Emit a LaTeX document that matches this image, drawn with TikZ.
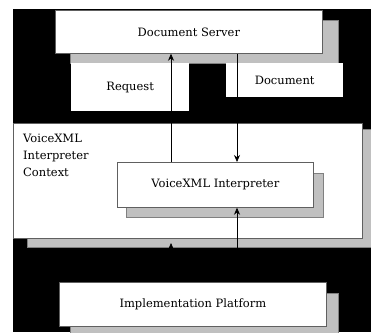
\documentclass[tikz,border=0pt]{standalone}
\usepackage{fontspec}
\setmainfont{DejaVu Serif}
\usetikzlibrary{arrows.meta}
\definecolor{shade}{HTML}{C0C0C0}
\definecolor{shadeedge}{HTML}{808080}
\definecolor{boxedge}{HTML}{606060}
\begin{document}
\begin{tikzpicture}[x=1pt,y=-1pt,
  box/.style={draw=boxedge,line width=0.7pt,fill=white,rectangle,inner sep=0pt,anchor=north west,font=\fontsize{11.5}{13}\selectfont},
  plain/.style={fill=white,rectangle,inner sep=0pt,anchor=north west,font=\fontsize{11.5}{13}\selectfont},
  shadow/.style={draw=shadeedge,line width=0.7pt,fill=shade},
  arr/.style={line width=0.7pt,-{Stealth[length=7pt,width=6pt]}},
  ln/.style={line width=0.7pt}]
\useasboundingbox (0,0) rectangle (371,332);
\fill[black] (13,9) rectangle (371,332);
% Document Server
\filldraw[shadow] (70,20) rectangle (338,63);
\node[box,minimum width=267pt,minimum height=43pt] (ds) at (55,10) {Document Server};
% Request and Document labels
\node[plain,minimum width=118pt,minimum height=48pt] (req) at (71,63) {Request};
\node[plain,minimum width=117pt,minimum height=34pt] (doc) at (226,63) {Document};
% Context
\filldraw[shadow] (27,129) rectangle (372,247);
\node[box,minimum width=349pt,minimum height=115pt] (ctx) at (13,123) {};
\node[anchor=north west,align=left,inner sep=0pt,font=\fontsize{11.5}{17}\selectfont] (ctxl) at (23,134) {VoiceXML\\Interpreter\\Context};
% VoiceXML Interpreter
\filldraw[shadow] (126,173) rectangle (323,217);
\node[box,minimum width=196pt,minimum height=45pt] (vi) at (117,162) {VoiceXML Interpreter};
% Implementation Platform
\filldraw[shadow] (70,293) rectangle (338,340);
\node[box,minimum width=267pt,minimum height=44pt] (ip) at (59,282) {Implementation Platform};
% connectors
\coordinate (xa) at (171,0);
\coordinate (xb) at (237,0);
\coordinate (ctxsh) at (171,243);
\draw[arr] (vi.north -| xa) -- (ds.south -| xa);
\draw[arr] (ds.south -| xb) -- (vi.north -| xb);
\draw[arr] (ip.north -| xa) -- (ctxsh);
\draw[arr] (ip.north -| xb) -- (vi.south -| xb);
\end{tikzpicture}
\end{document}
